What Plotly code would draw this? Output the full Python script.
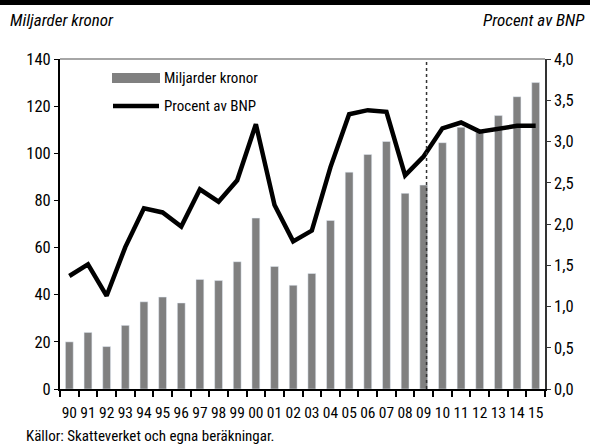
import plotly.graph_objects as go

years = ["90", "91", "92", "93", "94", "95", "96", "97", "98", "99", "00", "01", "02",
         "03", "04", "05", "06", "07", "08", "09", "10", "11", "12", "13", "14", "15"]
miljarder = [20, 24, 18, 27, 37, 39, 36.5, 46.5, 46, 54, 72.5, 52, 44,
             49, 71.5, 92, 99.5, 105, 83, 86.5, 104.5, 111, 109, 116, 124, 130]
procent = [1.37, 1.51, 1.13, 1.72, 2.19, 2.14, 1.97, 2.42, 2.27, 2.53, 3.21, 2.23, 1.79,
           1.92, 2.69, 3.33, 3.38, 3.36, 2.59, 2.82, 3.16, 3.23, 3.12, 3.15, 3.19, 3.19]

font = "Roboto Condensed, Liberation Sans Narrow, sans-serif"

W, H = 590, 448
L, R, T, B = 60, 45, 59, 59
pw, ph = W - L - R, H - T - B

def px(x):
    return (x - L) / pw

def py(y):
    return (H - B - y) / ph

fig = go.Figure()
fig.add_trace(go.Bar(x=years, y=miljarder, marker_color="#808080", width=0.42,
                     name="Miljarder kronor", showlegend=False))
fig.add_trace(go.Scatter(x=years, y=procent, yaxis="y2", mode="lines",
                         line=dict(color="black", width=4.5), name="Procent av BNP",
                         showlegend=False))

shapes = [
    # dotted forecast divider
    dict(type="line", xref="x", yref="paper", x0=19.15, x1=19.15, y0=0, y1=1,
         line=dict(color="#333333", width=1.5, dash="dot")),
    # top frame line
    dict(type="line", xref="paper", yref="paper", x0=0, x1=1, y0=1, y1=1,
         line=dict(color="#888888", width=1.5)),
    # black band at top
    dict(type="rect", xref="paper", yref="paper", x0=px(0), x1=px(W), y0=py(5), y1=py(0),
         fillcolor="black", line_width=0, layer="above"),
    # legend samples
    dict(type="rect", xref="paper", yref="paper", x0=px(112), x1=px(160),
         y0=py(83), y1=py(73), fillcolor="#808080", line_width=0),
    dict(type="line", xref="paper", yref="paper", x0=px(113), x1=px(159),
         y0=py(106), y1=py(106), line=dict(color="black", width=4.5)),
]

annotations = [
    dict(text="Miljarder kronor", xref="paper", yref="paper", x=px(162), y=py(78),
         xanchor="left", yanchor="middle", showarrow=False,
         font=dict(family=font, size=15, color="black")),
    dict(text="Procent av BNP", xref="paper", yref="paper", x=px(162), y=py(106),
         xanchor="left", yanchor="middle", showarrow=False,
         font=dict(family=font, size=15, color="black")),
    dict(text="<i>Miljarder kronor</i>", xref="paper", yref="paper", x=px(8), y=py(20),
         xanchor="left", yanchor="middle", showarrow=False,
         font=dict(family=font, size=17, color="black")),
    dict(text="<i>Procent av BNP</i>", xref="paper", yref="paper", x=px(587), y=py(20),
         xanchor="right", yanchor="middle", showarrow=False,
         font=dict(family=font, size=17, color="black")),
    dict(text="Källor: Skatteverket och egna beräkningar.", xref="paper", yref="paper",
         x=px(24), y=py(436), xanchor="left", yanchor="middle", showarrow=False,
         font=dict(family=font, size=15, color="black")),
]

fig.update_layout(
    width=W, height=H,
    margin=dict(l=L, r=R, t=T, b=B),
    paper_bgcolor="white", plot_bgcolor="white",
    separators=",.",
    font=dict(family=font, size=16, color="black"),
    bargap=0.5,
    xaxis=dict(type="category", tickson="boundaries", ticks="outside", ticklen=6,
               tickcolor="black", tickwidth=1.5, showline=True, linecolor="black",
               linewidth=2, showgrid=False, tickangle=0, dtick=1,
               ticklabelstandoff=8, tickfont=dict(size=15.5)),
    yaxis=dict(range=[0, 140], dtick=20, ticks="outside", ticklen=4, tickcolor="black",
               showline=True, linecolor="black", linewidth=2, showgrid=False,
               zeroline=False, tickfont=dict(size=16.5)),
    yaxis2=dict(range=[0, 4], dtick=0.5, tickformat=".1f", overlaying="y", side="right",
                ticks="outside", ticklen=4, tickcolor="#333333", showline=True,
                linecolor="#333333", linewidth=1.5, showgrid=False, zeroline=False,
                tickfont=dict(size=16.5)),
    shapes=shapes,
    annotations=annotations,
)

# drop the default page margin so the figure sits at the window's corner
fig.write_html("out.html", config={"displayModeBar": False},
               post_script="document.body.style.margin='0';")
